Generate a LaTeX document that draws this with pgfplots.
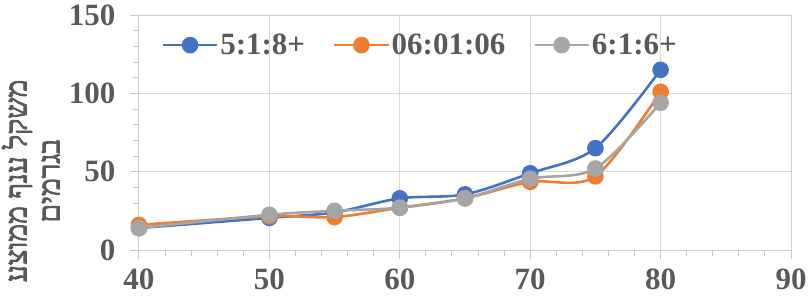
\documentclass[border=0pt]{standalone}
\usepackage{pgfplots}
\pgfplotsset{compat=1.18}
\usepackage{fontspec}
\setmainfont{Liberation Serif}
\newfontfamily\hebfont[Script=Hebrew, FakeBold=3]{Liberation Serif}
\TeXXeTstate=1
\definecolor{cblue}{HTML}{4472C4}
\definecolor{corange}{HTML}{ED7D31}
\definecolor{cgray}{HTML}{A5A5A5}
\definecolor{cgrid}{HTML}{D9D9D9}
\definecolor{ctext}{HTML}{595959}
\begin{document}
\begin{tikzpicture}
\useasboundingbox (-139bp,-50bp) rectangle (671bp,250bp);
\begin{axis}[
  at={(0,0)}, anchor=south west,
  scale only axis, width=652bp, height=235bp,
  xmin=40, xmax=90, ymin=0, ymax=150,
  xtick={40,50,...,90}, ytick={0,50,100,150},
  minor x tick num=4, minor y tick num=4,
  xtick pos=bottom, ytick pos=left,
  tick align=outside,
  major tick length=9bp, minor tick length=6bp,
  every tick/.style={cgrid!80!gray, line width=1pt},
  grid=major, major grid style={cgrid, line width=1pt},
  axis line style={cgrid!90!gray, line width=1pt},
  /pgf/number format/assume math mode=true,
  ticklabel style={font=\fontsize{31bp}{36bp}\selectfont\bfseries, text=ctext},
  xticklabel style={yshift=-6bp},
  yticklabel style={xshift=-11bp},
  ylabel={\hebfont\beginR משקל ענף ממוצע\endR\\\hebfont\beginR בגרמים\endR},
  ylabel style={at={(axis description cs:-0.166,0.294)}, anchor=center, align=center,
    font=\fontsize{30bp}{33bp}\selectfont, text=ctext},
  legend columns=-1,
  legend style={at={(axis description cs:0.030,0.872)}, anchor=west, draw=none, fill=none,
    font=\fontsize{31bp}{36bp}\selectfont\bfseries, text=ctext,
    nodes={inner xsep=2bp, inner ysep=1bp},
    /tikz/every even column/.append style={column sep=26bp}},
  legend image code/.code={\draw[mark repeat=2,mark phase=2,#1] plot coordinates {(0bp,0bp)(27bp,0bp)(54bp,0bp)};},
  every axis plot/.append style={line width=2.6pt, smooth, tension=0.5, mark=*, mark size=7bp},
]
\addplot[cblue, mark options={fill=cblue, draw=cblue}] coordinates {(40,14)(50,20.5)(55,24)(60,33)(65,35.5)(70,49)(75,65)(80,115)};
\addlegendentry{5:1:8+}
\addplot[corange, mark options={fill=corange, draw=corange}] coordinates {(40,16)(50,21.5)(55,21)(60,27)(65,33)(70,43.5)(75,47)(80,101)};
\addlegendentry{06:01:06}
\addplot[cgray, mark options={fill=cgray, draw=cgray}] coordinates {(40,14)(50,22.5)(55,25)(60,27)(65,33)(70,45.5)(75,52)(80,94)};
\addlegendentry{6:1:6+}
\end{axis}
\end{tikzpicture}
\end{document}
